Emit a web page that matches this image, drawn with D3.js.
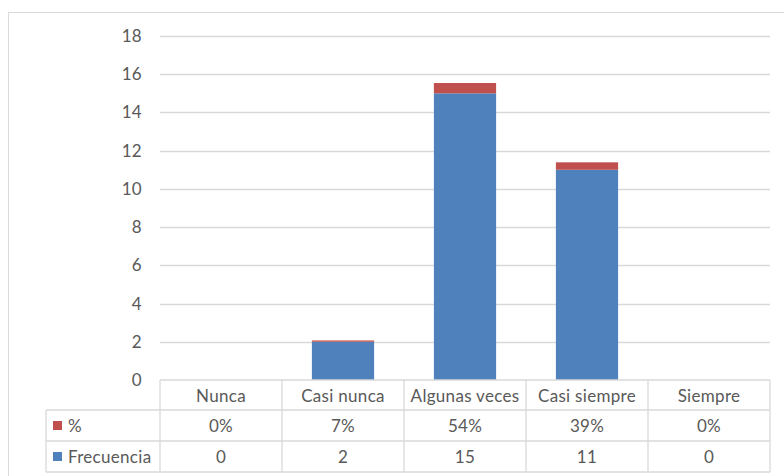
<!DOCTYPE html>
<html>
<head>
<meta charset="utf-8">
<script src="https://cdn.jsdelivr.net/npm/d3@7"></script>
<style>
  body { margin: 0; background: #fff; }
  svg { font-family: Lato, "Open Sans", sans-serif; }
</style>
</head>
<body>
<div id="chart"></div>
<script>
const categories = ["Nunca", "Casi nunca", "Algunas veces", "Casi siempre", "Siempre"];
const frecuencia = [0, 2, 15, 11, 0];
const porcentaje = [0, 0.07, 0.54, 0.39, 0];
const yTicks = [0, 2, 4, 6, 8, 10, 12, 14, 16, 18];

const width = 784;
const height = 476;
const textColor = "#595959";
const gridColor = "#d9d9d9";
const fontSize = "17px";

const svg = d3
  .select("#chart")
  .append("svg")
  .attr("width", width)
  .attr("height", height);

// Outer chart border
svg
  .append("rect")
  .attr("x", 8.5)
  .attr("y", 12.5)
  .attr("width", 800)
  .attr("height", 500)
  .attr("fill", "none")
  .attr("stroke", gridColor);

// Scales
const xTable = d3.scaleBand().domain(categories).range([160, 770]);
const xScale = d3
  .scaleBand()
  .domain(categories)
  .range([160, 770])
  .paddingInner(0.49)
  .paddingOuter(0.245);
const yScale = d3.scaleLinear().domain([0, 18]).range([380, 36]);

// Gridlines
svg
  .append("g")
  .selectAll("line")
  .data(yTicks.filter((d) => d > 0))
  .enter()
  .append("line")
  .attr("x1", 160)
  .attr("x2", 770)
  .attr("y1", (d) => Math.round(yScale(d)) + 0.5)
  .attr("y2", (d) => Math.round(yScale(d)) + 0.5)
  .attr("stroke", gridColor)
  .attr("stroke-width", 1.3);

// Y axis labels
const yAxis = d3.axisLeft(yScale).tickValues(yTicks).tickSize(0).tickPadding(18);
const yG = svg.append("g").attr("transform", "translate(160,0)").call(yAxis);
yG.select(".domain").remove();
yG.selectAll("text")
  .attr("fill", textColor)
  .style("font-size", fontSize)
  .style("letter-spacing", "0.3px")
  .style("font-family", "Lato, 'Open Sans', sans-serif");

// Stacked bars
const rows = categories.map((c, i) => ({ cat: c, freq: frecuencia[i], pct: porcentaje[i] }));
const stack = d3.stack().keys(["freq", "pct"]);
const series = stack(rows);
const colors = { freq: "#4f81bd", pct: "#c0504d" };

svg
  .append("g")
  .selectAll("g")
  .data(series)
  .enter()
  .append("g")
  .attr("fill", (s) => colors[s.key])
  .selectAll("rect")
  .data((s) => s)
  .enter()
  .append("rect")
  .attr("x", (d) => xScale(d.data.cat))
  .attr("width", xScale.bandwidth())
  .attr("y", (d) => yScale(d[1]))
  .attr("height", (d) => yScale(d[0]) - yScale(d[1]));

// Data table
const table = svg.append("g").attr("stroke", gridColor).attr("stroke-width", 1.3);
const rowLines = [380, 410, 441, 472];
const left = 46;

// horizontal lines
table.append("line").attr("x1", 160).attr("x2", 770).attr("y1", rowLines[0]).attr("y2", rowLines[0]);
rowLines.slice(1).forEach((y) => {
  table.append("line").attr("x1", left).attr("x2", 770).attr("y1", y).attr("y2", y);
});
// vertical lines
table.append("line").attr("x1", left).attr("x2", left).attr("y1", rowLines[1]).attr("y2", rowLines[3]);
categories.forEach((c) => {
  const x = xTable(c);
  table.append("line").attr("x1", x).attr("x2", x).attr("y1", rowLines[0]).attr("y2", rowLines[3]);
});
table.append("line").attr("x1", 770).attr("x2", 770).attr("y1", rowLines[0]).attr("y2", rowLines[3]);

const cellText = (x, y, txt, anchor) =>
  svg
    .append("text")
    .attr("x", x)
    .attr("y", y)
    .attr("text-anchor", anchor || "middle")
    .attr("dominant-baseline", "central")
    .attr("fill", textColor)
    .style("font-size", fontSize)
    .style("letter-spacing", "0.3px")
    .text(txt);

const mid = (a, b) => (a + b) / 2;
categories.forEach((c, i) => {
  const cx = xTable(c) + xTable.bandwidth() / 2;
  cellText(cx, mid(rowLines[0], rowLines[1]), c);
  cellText(cx, mid(rowLines[1], rowLines[2]), Math.round(porcentaje[i] * 100) + "%");
  cellText(cx, mid(rowLines[2], rowLines[3]), frecuencia[i]);
});

// Legend keys inside table
const legendRows = [
  { name: "%", color: colors.pct, y: mid(rowLines[1], rowLines[2]) },
  { name: "Frecuencia", color: colors.freq, y: mid(rowLines[2], rowLines[3]) },
];
legendRows.forEach((r) => {
  svg
    .append("rect")
    .attr("x", 53)
    .attr("y", r.y - 4.5)
    .attr("width", 9)
    .attr("height", 9)
    .attr("fill", r.color);
  cellText(68, r.y, r.name, "start");
});
</script>
</body>
</html>
